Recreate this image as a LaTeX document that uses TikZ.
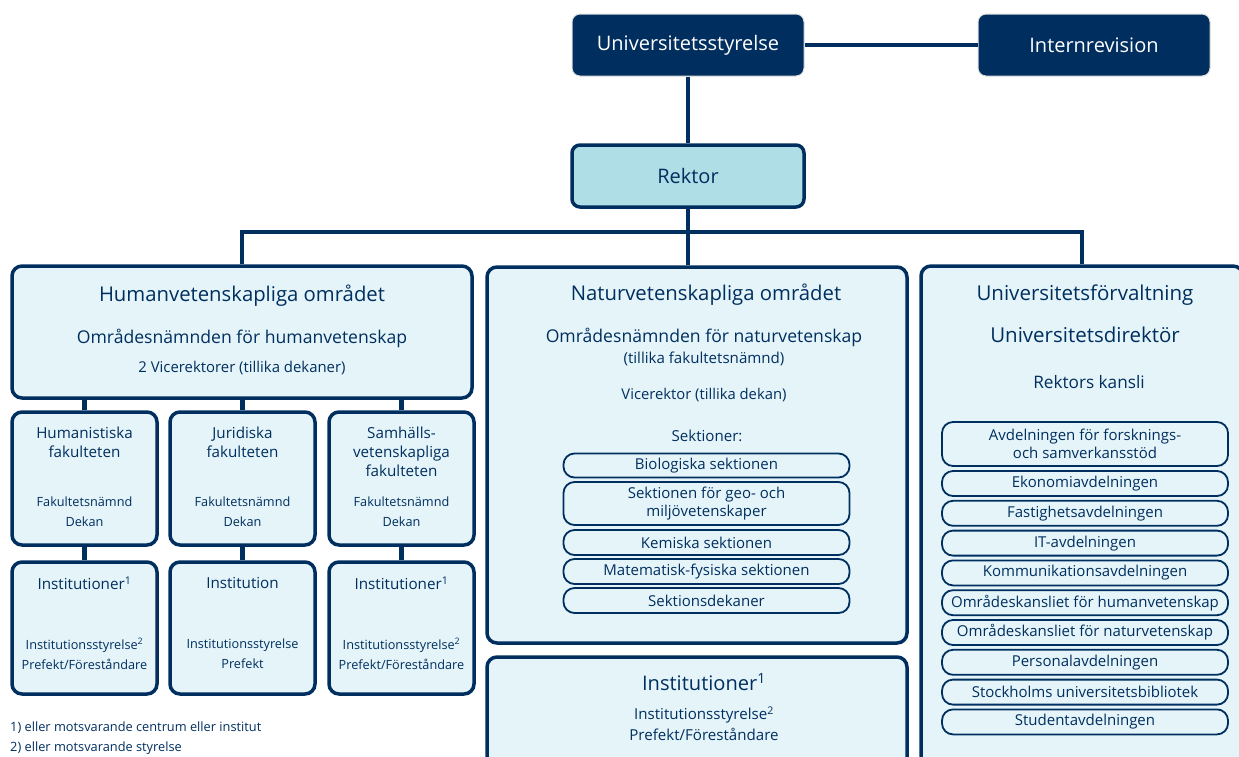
\documentclass[tikz,border=0pt]{standalone}
\usepackage{fontspec}
\setmainfont{Open Sans}
\usepackage{xcolor}
\usetikzlibrary{positioning}
\definecolor{sunavy}{RGB}{0,47,95}
\definecolor{sulight}{RGB}{228,244,249}
\definecolor{surektor}{RGB}{176,222,230}
\newcommand{\fs}[2]{\fontsize{#1}{#2}\selectfont}

\begin{document}
\begin{tikzpicture}[x=1pt, y=-1pt,
    topbox/.style={draw=gray!25, line width=1, fill=sunavy, text=white, rounded corners=8,
        minimum width=232, minimum height=62, font=\fs{20}{24}},
    rekbox/.style={draw=sunavy, line width=3.5, fill=surektor, text=sunavy, rounded corners=8,
        minimum width=232, minimum height=62, font=\fs{20}{24}},
    area/.style={draw=sunavy, line width=3.5, fill=sulight, rounded corners=10},
    pill/.style={draw=sunavy, line width=1.8, fill=sulight, text=sunavy, rounded corners=11,
        minimum width=286, inner sep=0, align=center, font=\fs{15}{18.5}},
    txt/.style={text=sunavy, align=center, inner sep=0},
    conn/.style={draw=sunavy, line width=4.5}]
\useasboundingbox (0,0) rectangle (1239,756);
\clip (0,0) rectangle (1239,756);
\fill[white] (0,0) rectangle (1239,756);

% ledning
\node[topbox] (styr) at (688,45) {Universitetsstyrelse};
\node[topbox] (intrev) at (1094,45) {Internrevision};
\node[rekbox] (rektor) at (688,176) {Rektor};

% omraden
\node[area, minimum width=460, minimum height=132] (hum) at (242,332) {};
\node[area, minimum width=420, minimum height=376] (natur) at (697,455) {};
\node[area, minimum width=420, minimum height=118] (natinst) at (697,716) {};
\node[area, minimum width=322, minimum height=524] (forv) at (1082,528) {};

% fakulteter och institutioner
\foreach \nm/\xx in {hf/84.5, jf/242.5, sf/401.5}{
  \node[area, minimum width=145, minimum height=133] (\nm fak) at (\xx,478.5) {};
  \node[area, minimum width=145, minimum height=132] (\nm inst) at (\xx,628) {};
}

% linjer
\draw[conn] (styr) -- (intrev);
\draw[conn] (styr) -- (rektor);
\coordinate (bus) at (688,232);
\draw[conn] (rektor.south) -- (rektor.south |- natur.north);
\draw[conn] (hum.north) |- (bus) -| (forv.north);
\foreach \nm in {hf, jf, sf}{
  \draw[conn] (\nm fak.north) -- (\nm fak.north |- hum.south);
  \draw[conn] (\nm fak) -- (\nm inst);
}

% humanvetenskap
\node[txt, font=\fs{20.3}{24}] (humtitle) at (242,296) {Humanvetenskapliga området};
\node[txt, font=\fs{17.6}{21}] (humnamnd) at (242,338) {Områdesnämnden för humanvetenskap};
\node[txt, font=\fs{14.9}{18}] (humvice) at (242,368) {2 Vicerektorer (tillika dekaner)};

\node[txt, font=\fs{15.2}{19}] (hftitle) at (84.5,442.5) {Humanistiska\\fakulteten};
\node[txt, font=\fs{15.2}{19}] (jftitle) at (242.5,442.5) {Juridiska\\fakulteten};
\node[txt, font=\fs{15.2}{19}] (sftitle) at (401.5,452) {Samhälls-\\vetenskapliga\\fakulteten};
\foreach \nm/\xx in {hf/84.5, jf/242.5, sf/401.5}{
  \node[txt, font=\fs{12.7}{15}] (\nm namnd) at (\xx,502) {Fakultetsnämnd};
  \node[txt, font=\fs{12.7}{15}] (\nm dekan) at (\xx,522) {Dekan};
}
\node[txt, font=\fs{15.2}{19}] (hfinsttitle) at (84.5,583) {Institutioner\textsuperscript{1}};
\node[txt, font=\fs{15.2}{19}] (jfinsttitle) at (242.5,583) {Institution};
\node[txt, font=\fs{15.2}{19}] (sfinsttitle) at (401.5,583) {Institutioner\textsuperscript{1}};
\node[txt, font=\fs{12.7}{20}] (hfinstsub) at (84.5,654) {Institutionsstyrelse\textsuperscript{2}\\Prefekt/Föreståndare};
\node[txt, font=\fs{12.7}{20}] (jfinstsub) at (242.5,654) {Institutionsstyrelse\\Prefekt};
\node[txt, font=\fs{12.7}{20}] (sfinstsub) at (401.5,654) {Institutionsstyrelse\textsuperscript{2}\\Prefekt/Föreståndare};

\node[txt, font=\fs{12.8}{15}, anchor=west] (not1) at (10,728) {1) eller motsvarande centrum eller institut};
\node[txt, font=\fs{12.8}{15}, anchor=west] (not2) at (10,748) {2) eller motsvarande styrelse};

% naturvetenskap
\node[txt, font=\fs{20.3}{24}] (nattitle) at (706,295) {Naturvetenskapliga området};
\node[txt, font=\fs{17.6}{21}] (natnamnd) at (704,337) {Områdesnämnden för naturvetenskap};
\node[txt, font=\fs{15.1}{18}] (nattillika) at (704,359) {(tillika fakultetsnämnd)};
\node[txt, font=\fs{14.8}{18}] (natvice) at (704,395) {Vicerektor (tillika dekan)};
\node[txt, font=\fs{15.1}{18}] (natsekt) at (707,436) {Sektioner:};
\node[pill, minimum height=24] (bio) at (706.5,465.5) {Biologiska sektionen};
\node[pill, minimum height=43] (geo) at (706.5,503.5) {Sektionen för geo- och\\miljövetenskaper};
\node[pill, minimum height=25] (kemi) at (706.5,542.5) {Kemiska sektionen};
\node[pill, minimum height=25] (matfys) at (706.5,571.5) {Matematisk-fysiska sektionen};
\node[pill, minimum height=25] (sektdek) at (706.5,600.5) {Sektionsdekaner};

\node[txt, font=\fs{20.1}{24}] (natinsttitle) at (704,682) {Institutioner\textsuperscript{1}};
\node[txt, font=\fs{15.1}{21}] (natinstsub) at (704,723.5) {Institutionsstyrelse\textsuperscript{2}\\Prefekt/Föreståndare};

% forvaltning
\node[txt, font=\fs{20.5}{24}] (forvtitle) at (1085,295) {Universitetsförvaltning};
\node[txt, font=\fs{20.5}{24}] (forvdir) at (1085,335) {Universitetsdirektör};
\node[txt, font=\fs{17.2}{20}] (forvkansli) at (1089,382) {Rektors kansli};
\node[pill, minimum height=44] (avdfs) at (1085,444) {Avdelningen för forsknings-\\och samverkansstöd};
\foreach \nm/\txt [count=\i from 0] in {eko/Ekonomiavdelningen, fast/Fastighetsavdelningen,
    it/IT-avdelningen, komm/Kommunikationsavdelningen,
    okhum/Områdeskansliet för humanvetenskap, oknat/Områdeskansliet för naturvetenskap,
    pers/Personalavdelningen, sub/Stockholms universitetsbibliotek, stud/Studentavdelningen}{
  \node[pill, minimum height=25] (\nm) at (1085,483.5+29.8*\i) {\txt};
}
\end{tikzpicture}
\end{document}
